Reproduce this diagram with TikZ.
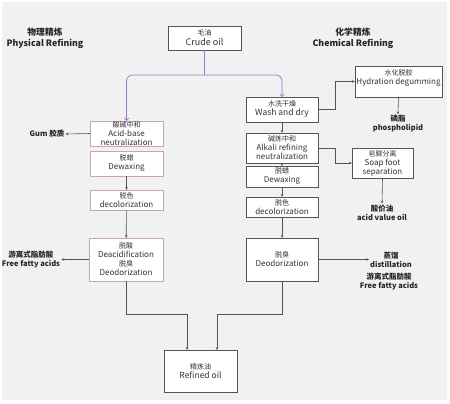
\documentclass[tikz,border=0pt]{standalone}
\usepackage{fontspec}
\setmainfont{Noto Sans CJK SC}
\usetikzlibrary{arrows.meta}

\definecolor{bggray}{HTML}{F1F1F1}
\definecolor{linegray}{HTML}{555555}
\definecolor{pinkline}{HTML}{C9A3BC}
\definecolor{purpleline}{HTML}{9C74C9}
\definecolor{txtgray}{HTML}{333333}

\newcommand{\zh}[1]{{\fontsize{7}{9}\selectfont #1}}

\begin{document}
\begin{tikzpicture}[x=1pt, y=-1pt,
  box/.style={draw=linegray, fill=white, line width=0.6pt, inner sep=0pt, outer sep=0pt,
    align=center, text=txtgray, font=\fontsize{8}{9}\selectfont},
  pbox/.style={box, draw=pinkline},
  note/.style={align=center, inner sep=1pt, text=black!85, font=\bfseries\fontsize{7.5}{9}\selectfont},
  arr/.style={draw=linegray, line width=0.6pt, -{Stealth[length=3pt,width=2.6pt]}},
  pline/.style={draw=purpleline, line width=0.7pt, rounded corners=6pt},
  parr/.style={pline, -{Straight Barb[length=2.5pt,width=4.5pt]}}]
  % background
  \useasboundingbox (0,0) rectangle (450,404);
  \fill[white] (0,0) rectangle (450,404);
  \fill[bggray] (2,2) rectangle (447,400);

  % headings
  \node[note, font=\bfseries\fontsize{8.8}{11}\selectfont] (phys) at (45,38.5) {物理精炼\\Physical Refining};
  \node[note, font=\bfseries\fontsize{8.8}{11}\selectfont] (chem) at (353,38.5) {化学精炼\\Chemical Refining};

  % crude oil
  \node[box, minimum width=73pt, minimum height=24pt, font=\fontsize{9}{10}\selectfont] (crude) at (204.5,38) {\zh{毛油}\\Crude oil};

  % physical refining column
  \node[pbox, minimum width=73pt, minimum height=25pt] (acid) at (126.5,133.5) {\zh{酸碱中和}\\Acid-base\\neutralization};
  \node[pbox, minimum width=73pt, minimum height=25pt] (dewaxL) at (126.5,163.5) {\zh{脱蜡}\\Dewaxing};
  \node[pbox, minimum width=73pt, minimum height=20pt] (decolL) at (126.5,200) {\zh{脱色}\\decolorization};
  \node[pbox, minimum width=74pt, minimum height=43pt] (deacid) at (126,259.5) {\zh{脱酸}\\Deacidification\\\zh{脱臭}\\Deodorization};

  % chemical refining column
  \node[box, minimum width=72pt, minimum height=25pt, font=\fontsize{8.5}{9}\selectfont] (wash) at (282,109.5) {\zh{水洗干燥}\\Wash and dry};
  \node[box, minimum width=72pt, minimum height=30pt] (alkali) at (282,148) {\zh{碱炼中和}\\Alkali refining\\neutralization};
  \node[box, minimum width=72pt, minimum height=21pt] (dewaxR) at (282,176.5) {\zh{脱蜡}\\Dewaxing};
  \node[box, minimum width=72pt, minimum height=20pt] (decolR) at (282,207) {\zh{脱色}\\decolorization};
  \node[box, minimum width=72pt, minimum height=43pt] (deodor) at (282,259.5) {\zh{脱臭}\\Deodorization};
  \node[box, minimum width=87pt, minimum height=31pt, text depth=9pt] (hydra) at (398.5,81.5) {\zh{水化脱胶}\\Hydration degumming};
  \node[box, minimum width=61pt, minimum height=30pt] (soap) at (382.5,163) {\zh{皂脚分离}\\Soap foot\\separation};

  % refined oil
  \node[box, minimum width=73pt, minimum height=42pt, font=\fontsize{8.5}{9.5}\selectfont] (refined) at (200.5,371) {\zh{精炼油}\\Refined oil};

  % by-products
  \node[note] (gum) at (47,134) {Gum 胶质};
  \node[note] (ffaL) at (31,259.5) {游离式脂肪酸\\Free fatty acids};
  \node[note] (phos) at (398,124) {磷脂\\phospholipid};
  \node[note] (acidoil) at (382,212.5) {酸价油\\acid value oil};
  \node[note] (distil) at (391,259.5) {蒸馏\\distillation};
  \node[note] (ffaR) at (389,281.5) {游离式脂肪酸\\Free fatty acids};

  % junctions
  \coordinate (split) at (204.5,75);
  \coordinate (joinL) at (187,314);
  \coordinate (joinR) at (217,314);

  % purple split from crude oil
  \draw[pline] (crude.south) -- (split);
  \draw[parr] (split) -| (acid.north);
  \draw[parr] (split) -| (wash.north);

  % physical flow
  \draw[arr] (dewaxL) -- (decolL);
  \draw[arr] (decolL) -- (deacid);
  \draw[arr] (acid.west) -- (gum.east);
  \draw[arr] (deacid.west) -- (ffaL.east);
  \draw[arr] (deacid.south) |- (joinL) -- (joinL |- refined.north);

  % chemical flow
  \draw[arr] (wash) -- (alkali);
  \draw[arr] (alkali) -- (dewaxR);
  \draw[arr] (dewaxR) -- (decolR);
  \draw[arr] (decolR) -- (deodor);
  \draw[arr] (wash.east) -- ++(17,0) |- (hydra.west);
  \draw[arr] (alkali.east) -- ++(17,0) |- (soap.west);
  \draw[arr] (hydra.south) -- (phos.north);
  \draw[arr] (soap.south) -- (acidoil.north);
  \draw[arr] (deodor.east) -- (distil.west);
  \draw[arr] (deodor.south) |- (joinR) -- (joinR |- refined.north);
\end{tikzpicture}
\end{document}
